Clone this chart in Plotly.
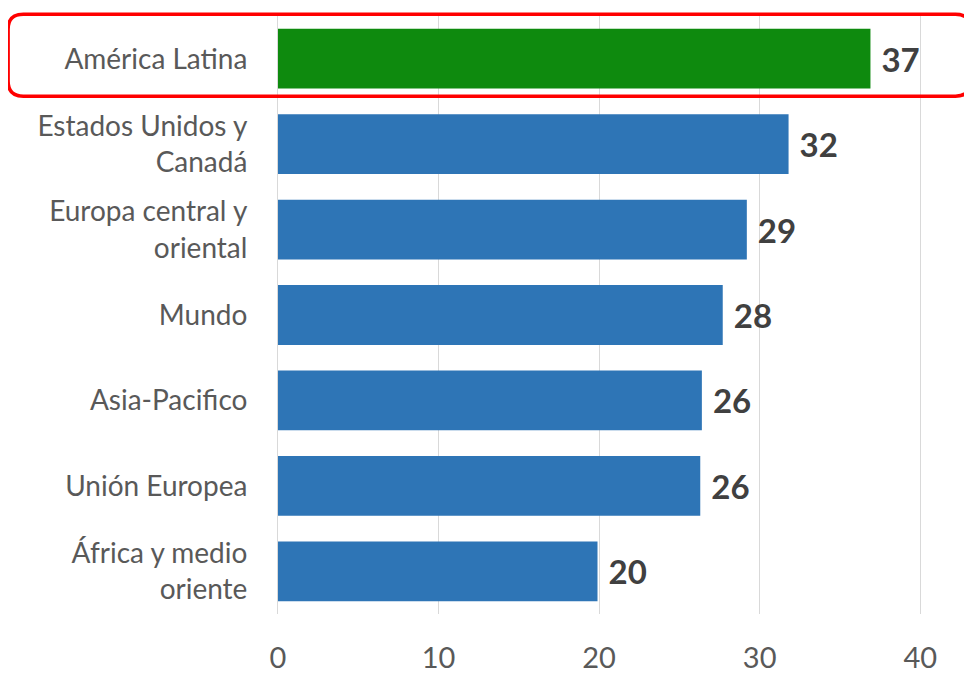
import plotly.graph_objects as go

# Regions, top to bottom as drawn
regions = [
    "América Latina",
    "Estados Unidos y<br>Canadá",
    "Europa central y<br>oriental",
    "Mundo",
    "Asia-Pacifico",
    "Unión Europea",
    "África y medio<br>oriente",
]
values = [36.9, 31.8, 29.2, 27.7, 26.4, 26.3, 19.9]
highlight = "América Latina"

x_ticks = [0, 10, 20, 30, 40]

colors = ["#0E8A0E" if r == highlight else "#2E75B6" for r in regions]

fig = go.Figure(
    go.Bar(
        y=regions,
        x=values,
        orientation="h",
        width=0.7,
        marker_color=colors,
        marker_line_width=0,
        texttemplate="\u00a0%{x:.0f}",
        textposition="outside",
        textfont={"color": "#404040", "size": 33, "family": "Lato", "weight": "bold"},
        cliponaxis=False,
    )
)

# rounded red frame around the highlighted row (paper coords)
x0, x1, y0, y1 = -0.390, 1.001, 0.866, 1.003
rx, ry = 0.022, 0.025
path = (
    f"M {x0+rx},{y1} L {x1-rx},{y1} Q {x1},{y1} {x1},{y1-ry} "
    f"L {x1},{y0+ry} Q {x1},{y0} {x1-rx},{y0} "
    f"L {x0+rx},{y0} Q {x0},{y0} {x0},{y0+ry} "
    f"L {x0},{y1-ry} Q {x0},{y1} {x0+rx},{y1} Z"
)
fig.add_shape(type="path", path=path, xref="paper", yref="paper",
              line={"color": "#FF0000", "width": 3.5}, layer="above")

# page body has an 8px margin, so the figure is sized/offset to compensate
fig.update_layout(
    width=964,
    height=665,
    paper_bgcolor="white",
    plot_bgcolor="white",
    showlegend=False,
    bargap=0.3,
    margin=dict(l=270, r=2, t=8, b=59),
    font={"family": "Lato, sans-serif", "color": "#595959"},
    xaxis={
        "range": [0, 43.1],
        "tickvals": x_ticks,
        "showgrid": True,
        "gridcolor": "#D9D9D9",
        "gridwidth": 1,
        "zeroline": False,
        "showline": False,
        "tickfont": {"size": 29, "color": "#595959"},
        "ticklabelstandoff": 24,
        "automargin": False,
    },
    yaxis={
        "autorange": "reversed",
        "showline": True,
        "linecolor": "#D9D9D9",
        "linewidth": 1,
        "tickfont": {"size": 28, "color": "#595959"},
        "ticklabelstandoff": 24,
        "ticks": "",
        "automargin": False,
    },
)

fig.write_html("out.html")
